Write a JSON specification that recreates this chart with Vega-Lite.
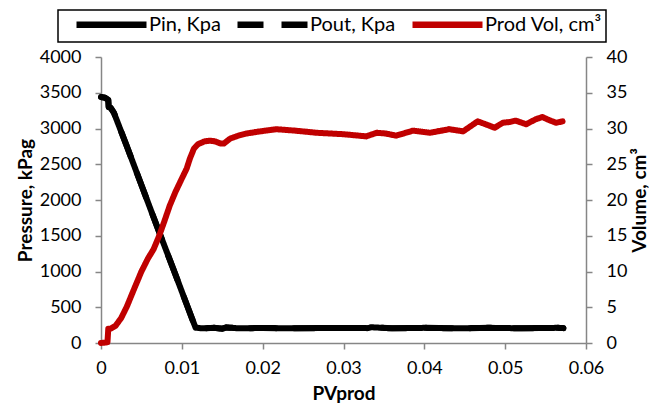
{
  "$schema": "https://vega.github.io/schema/vega-lite/v6.json",
  "autosize": {"type": "none"},
  "width": 485,
  "height": 286,
  "padding": {"left": 101, "top": 57, "right": 63, "bottom": 62},
  "background": "white",
  "config": {
    "view": {"stroke": null},
    "font": "Lato",
    "axis": {
      "grid": false,
      "domainColor": "#868686",
      "domainWidth": 1.5,
      "tickColor": "#868686",
      "tickWidth": 1.5,
      "tickSize": 6,
      "labelFont": "Lato",
      "labelFontSize": 18,
      "labelColor": "#000000",
      "titleFont": "Lato",
      "titleFontSize": 19,
      "titleFontWeight": "bold",
      "titleColor": "#000000"
    },
    "legend": {
      "orient": "none",
      "legendX": -43,
      "legendY": -47,
      "direction": "horizontal",
      "strokeColor": "#000000",
      "strokeWidth": 1.5,
      "padding": 4,
      "symbolType": "M-5,0H5",
      "symbolSize": 196,
      "symbolStrokeWidth": 6.5,
      "symbolOffset": 39,
      "labelFont": "Lato",
      "labelFontSize": 20,
      "labelColor": "#000000",
      "labelOffset": 27,
      "columnPadding": 2,
      "labelLimit": 300
    }
  },
  "datasets": {
    "pres": [
      {"x": 0, "series": "Pin, Kpa", "kPa": 3440},
      {"x": 0.0005, "series": "Pin, Kpa", "kPa": 3430},
      {"x": 0.0009, "series": "Pin, Kpa", "kPa": 3400},
      {"x": 0.00095, "series": "Pin, Kpa", "kPa": 3300},
      {"x": 0.0012, "series": "Pin, Kpa", "kPa": 3290},
      {"x": 0.0016, "series": "Pin, Kpa", "kPa": 3220},
      {"x": 0.0032, "series": "Pin, Kpa", "kPa": 2750},
      {"x": 0.005, "series": "Pin, Kpa", "kPa": 2210},
      {"x": 0.007, "series": "Pin, Kpa", "kPa": 1610},
      {"x": 0.009, "series": "Pin, Kpa", "kPa": 1020},
      {"x": 0.0105, "series": "Pin, Kpa", "kPa": 570},
      {"x": 0.0113, "series": "Pin, Kpa", "kPa": 330},
      {"x": 0.0117, "series": "Pin, Kpa", "kPa": 215},
      {"x": 0.0125, "series": "Pin, Kpa", "kPa": 205},
      {"x": 0.014, "series": "Pin, Kpa", "kPa": 212},
      {"x": 0.015, "series": "Pin, Kpa", "kPa": 200},
      {"x": 0.0155, "series": "Pin, Kpa", "kPa": 218},
      {"x": 0.017, "series": "Pin, Kpa", "kPa": 205},
      {"x": 0.02, "series": "Pin, Kpa", "kPa": 210},
      {"x": 0.024, "series": "Pin, Kpa", "kPa": 205},
      {"x": 0.028, "series": "Pin, Kpa", "kPa": 210},
      {"x": 0.033, "series": "Pin, Kpa", "kPa": 208},
      {"x": 0.0335, "series": "Pin, Kpa", "kPa": 220},
      {"x": 0.036, "series": "Pin, Kpa", "kPa": 205},
      {"x": 0.04, "series": "Pin, Kpa", "kPa": 212},
      {"x": 0.044, "series": "Pin, Kpa", "kPa": 205},
      {"x": 0.048, "series": "Pin, Kpa", "kPa": 212},
      {"x": 0.052, "series": "Pin, Kpa", "kPa": 206},
      {"x": 0.0565, "series": "Pin, Kpa", "kPa": 212},
      {"x": 0.0572, "series": "Pin, Kpa", "kPa": 208},
      {"x": 0, "series": "Pout, Kpa", "kPa": 3440},
      {"x": 0.0005, "series": "Pout, Kpa", "kPa": 3430},
      {"x": 0.0009, "series": "Pout, Kpa", "kPa": 3400},
      {"x": 0.00095, "series": "Pout, Kpa", "kPa": 3300},
      {"x": 0.0012, "series": "Pout, Kpa", "kPa": 3290},
      {"x": 0.0016, "series": "Pout, Kpa", "kPa": 3220},
      {"x": 0.0032, "series": "Pout, Kpa", "kPa": 2750},
      {"x": 0.005, "series": "Pout, Kpa", "kPa": 2210},
      {"x": 0.007, "series": "Pout, Kpa", "kPa": 1610},
      {"x": 0.009, "series": "Pout, Kpa", "kPa": 1020},
      {"x": 0.0105, "series": "Pout, Kpa", "kPa": 570},
      {"x": 0.0113, "series": "Pout, Kpa", "kPa": 330},
      {"x": 0.0117, "series": "Pout, Kpa", "kPa": 215},
      {"x": 0.0125, "series": "Pout, Kpa", "kPa": 205},
      {"x": 0.014, "series": "Pout, Kpa", "kPa": 212},
      {"x": 0.015, "series": "Pout, Kpa", "kPa": 200},
      {"x": 0.0155, "series": "Pout, Kpa", "kPa": 218},
      {"x": 0.017, "series": "Pout, Kpa", "kPa": 205},
      {"x": 0.02, "series": "Pout, Kpa", "kPa": 210},
      {"x": 0.024, "series": "Pout, Kpa", "kPa": 205},
      {"x": 0.028, "series": "Pout, Kpa", "kPa": 210},
      {"x": 0.033, "series": "Pout, Kpa", "kPa": 208},
      {"x": 0.0335, "series": "Pout, Kpa", "kPa": 220},
      {"x": 0.036, "series": "Pout, Kpa", "kPa": 205},
      {"x": 0.04, "series": "Pout, Kpa", "kPa": 212},
      {"x": 0.044, "series": "Pout, Kpa", "kPa": 205},
      {"x": 0.048, "series": "Pout, Kpa", "kPa": 212},
      {"x": 0.052, "series": "Pout, Kpa", "kPa": 206},
      {"x": 0.0565, "series": "Pout, Kpa", "kPa": 212},
      {"x": 0.0572, "series": "Pout, Kpa", "kPa": 208}
    ],
    "vol": [
      {"x": 0, "series": "Prod Vol, cm³", "cm3": 0},
      {"x": 0.0008, "series": "Prod Vol, cm³", "cm3": 0.1},
      {"x": 0.0009, "series": "Prod Vol, cm³", "cm3": 2.0},
      {"x": 0.0012, "series": "Prod Vol, cm³", "cm3": 2.0},
      {"x": 0.0018, "series": "Prod Vol, cm³", "cm3": 2.4},
      {"x": 0.0025, "series": "Prod Vol, cm³", "cm3": 3.5},
      {"x": 0.0032, "series": "Prod Vol, cm³", "cm3": 5.1},
      {"x": 0.004, "series": "Prod Vol, cm³", "cm3": 7.3},
      {"x": 0.005, "series": "Prod Vol, cm³", "cm3": 10.0},
      {"x": 0.0058, "series": "Prod Vol, cm³", "cm3": 11.8},
      {"x": 0.0065, "series": "Prod Vol, cm³", "cm3": 13.1},
      {"x": 0.0072, "series": "Prod Vol, cm³", "cm3": 15.0},
      {"x": 0.0078, "series": "Prod Vol, cm³", "cm3": 16.9},
      {"x": 0.0085, "series": "Prod Vol, cm³", "cm3": 19.2},
      {"x": 0.0092, "series": "Prod Vol, cm³", "cm3": 21.1},
      {"x": 0.01, "series": "Prod Vol, cm³", "cm3": 23.0},
      {"x": 0.0106, "series": "Prod Vol, cm³", "cm3": 24.4},
      {"x": 0.011, "series": "Prod Vol, cm³", "cm3": 25.8},
      {"x": 0.0115, "series": "Prod Vol, cm³", "cm3": 27.2},
      {"x": 0.012, "series": "Prod Vol, cm³", "cm3": 27.8},
      {"x": 0.0128, "series": "Prod Vol, cm³", "cm3": 28.2},
      {"x": 0.0135, "series": "Prod Vol, cm³", "cm3": 28.3},
      {"x": 0.0141, "series": "Prod Vol, cm³", "cm3": 28.2},
      {"x": 0.0148, "series": "Prod Vol, cm³", "cm3": 27.9},
      {"x": 0.0152, "series": "Prod Vol, cm³", "cm3": 27.9},
      {"x": 0.016, "series": "Prod Vol, cm³", "cm3": 28.6},
      {"x": 0.017, "series": "Prod Vol, cm³", "cm3": 29.0},
      {"x": 0.018, "series": "Prod Vol, cm³", "cm3": 29.3},
      {"x": 0.0197, "series": "Prod Vol, cm³", "cm3": 29.6},
      {"x": 0.0217, "series": "Prod Vol, cm³", "cm3": 29.9},
      {"x": 0.024, "series": "Prod Vol, cm³", "cm3": 29.7},
      {"x": 0.0267, "series": "Prod Vol, cm³", "cm3": 29.4},
      {"x": 0.03, "series": "Prod Vol, cm³", "cm3": 29.2},
      {"x": 0.0328, "series": "Prod Vol, cm³", "cm3": 28.9},
      {"x": 0.0341, "series": "Prod Vol, cm³", "cm3": 29.4},
      {"x": 0.0352, "series": "Prod Vol, cm³", "cm3": 29.3},
      {"x": 0.0365, "series": "Prod Vol, cm³", "cm3": 29.0},
      {"x": 0.0386, "series": "Prod Vol, cm³", "cm3": 29.7},
      {"x": 0.0407, "series": "Prod Vol, cm³", "cm3": 29.4},
      {"x": 0.0431, "series": "Prod Vol, cm³", "cm3": 29.9},
      {"x": 0.0448, "series": "Prod Vol, cm³", "cm3": 29.6},
      {"x": 0.0466, "series": "Prod Vol, cm³", "cm3": 31.0},
      {"x": 0.0478, "series": "Prod Vol, cm³", "cm3": 30.5},
      {"x": 0.0487, "series": "Prod Vol, cm³", "cm3": 30.1},
      {"x": 0.0497, "series": "Prod Vol, cm³", "cm3": 30.8},
      {"x": 0.0505, "series": "Prod Vol, cm³", "cm3": 30.9},
      {"x": 0.0513, "series": "Prod Vol, cm³", "cm3": 31.1},
      {"x": 0.0526, "series": "Prod Vol, cm³", "cm3": 30.6},
      {"x": 0.0538, "series": "Prod Vol, cm³", "cm3": 31.3},
      {"x": 0.0546, "series": "Prod Vol, cm³", "cm3": 31.6},
      {"x": 0.0556, "series": "Prod Vol, cm³", "cm3": 31.1},
      {"x": 0.0563, "series": "Prod Vol, cm³", "cm3": 30.8},
      {"x": 0.0571, "series": "Prod Vol, cm³", "cm3": 31.0}
    ]
  },
  "encoding": {
    "x": {
      "field": "x",
      "type": "quantitative",
      "scale": {"domain": [0, 0.06], "nice": false, "zero": false},
      "axis": {
        "values": [0, 0.01, 0.02, 0.03, 0.04, 0.05, 0.06],
        "format": ".2~f",
        "labelFlush": false,
        "labelPadding": 10,
        "title": "PVprod",
        "titleY": 50,
        "titleBaseline": "middle"
      }
    },
    "color": {
      "field": "series",
      "type": "nominal",
      "scale": {
        "domain": ["Pin, Kpa", "Pout, Kpa", "Prod Vol, cm³"],
        "range": ["#000000", "#000000", "#C00000"]
      },
      "legend": {"title": null, "labelExpr": "datum.value === 'Prod Vol, cm³' ? datum.label + '\u00a0\u00a0\u00a0' : datum.label"}
    },
    "strokeDash": {
      "field": "series",
      "type": "nominal",
      "scale": {
        "domain": ["Pin, Kpa", "Pout, Kpa", "Prod Vol, cm³"],
        "range": [[1, 0], [26, 18], [1, 0]]
      },
      "legend": {"title": null, "labelExpr": "datum.value === 'Prod Vol, cm³' ? datum.label + '\u00a0\u00a0\u00a0' : datum.label"}
    }
  },
  "layer": [
    {
      "data": {"name": "pres"},
      "mark": {"type": "line", "strokeWidth": 6, "strokeCap": "round", "strokeJoin": "round"},
      "encoding": {
        "y": {
          "field": "kPa",
          "type": "quantitative",
          "scale": {"domain": [0, 4000], "nice": false},
          "axis": {
            "orient": "left",
            "values": [0, 500, 1000, 1500, 2000, 2500, 3000, 3500, 4000],
            "format": "d",
            "labelPadding": 14,
            "title": "Pressure, kPag",
            "titleX": -76,
            "titleY": 143,
            "titleAngle": -90,
            "titleAlign": "center",
            "titleBaseline": "middle"
          }
        }
      }
    },
    {
      "data": {"name": "vol"},
      "mark": {"type": "line", "strokeWidth": 6, "strokeCap": "round", "strokeJoin": "round"},
      "encoding": {
        "y": {
          "field": "cm3",
          "type": "quantitative",
          "scale": {"domain": [0, 40], "nice": false},
          "axis": {
            "orient": "right",
            "values": [0, 5, 10, 15, 20, 25, 30, 35, 40],
            "format": "d",
            "labelPadding": 14,
            "title": "Volume, cm³",
            "titleX": 53,
            "titleY": 143,
            "titleAngle": -90,
            "titleAlign": "center",
            "titleBaseline": "middle"
          }
        }
      }
    }
  ],
  "resolve": {"scale": {"y": "independent"}}
}
